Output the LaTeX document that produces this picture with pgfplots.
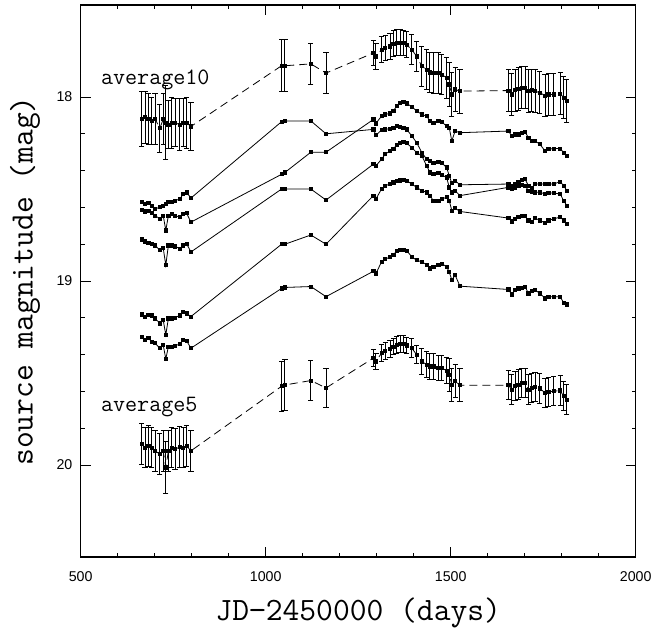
\documentclass[border=0pt]{standalone}
\usepackage{fontspec}
\setsansfont{Liberation Sans}
\usepackage{pgfplots}
\pgfplotsset{compat=1.18}
\usepackage{pgfplotstable}

\pgfplotstableread{
x y
665 18.568
674 18.581
683 18.576
692 18.590
701 18.608
714 18.599
723 18.590
730 18.581
737 18.572
746 18.568
755 18.563
768 18.554
777 18.527
786 18.518
798 18.549
1043 18.134
1052 18.130
1122 18.130
1163 18.200
1291 18.176
1298 18.208
1313 18.179
1323 18.176
1336 18.172
1345 18.167
1354 18.158
1363 18.161
1372 18.167
1381 18.176
1395 18.212
1408 18.248
1422 18.302
1435 18.338
1444 18.347
1453 18.356
1467 18.352
1476 18.359
1489 18.383
1496 18.428
1503 18.468
1512 18.455
1525 18.477
1656 18.473
1665 18.482
1674 18.473
1683 18.460
1692 18.449
1701 18.446
1710 18.482
1719 18.496
1728 18.473
1741 18.473
1755 18.473
1764 18.473
1778 18.473
1796 18.460
1805 18.482
1814 18.509
}\curveA

\pgfplotstableread{
x y
665 18.612
674 18.622
683 18.617
692 18.630
701 18.644
714 18.662
723 18.644
730 18.725
737 18.644
746 18.635
755 18.644
768 18.653
777 18.635
786 18.631
798 18.680
1043 18.420
1052 18.410
1122 18.300
1163 18.300
1291 18.122
1298 18.143
1313 18.104
1323 18.095
1336 18.089
1345 18.076
1354 18.049
1363 18.031
1372 18.028
1381 18.035
1395 18.053
1408 18.076
1422 18.095
1435 18.104
1444 18.131
1453 18.140
1467 18.131
1476 18.136
1489 18.158
1496 18.167
1503 18.239
1512 18.185
1525 18.194
1656 18.185
1665 18.212
1674 18.203
1683 18.203
1692 18.194
1701 18.190
1710 18.221
1719 18.239
1728 18.239
1741 18.257
1755 18.293
1764 18.284
1778 18.280
1796 18.280
1805 18.302
1814 18.320
}\curveB

\pgfplotstableread{
x y
665 18.774
674 18.785
683 18.792
692 18.797
701 18.806
714 18.833
723 18.821
730 18.914
737 18.806
746 18.806
755 18.812
768 18.824
777 18.806
786 18.797
798 18.842
1043 18.500
1052 18.500
1122 18.500
1163 18.560
1291 18.365
1298 18.374
1313 18.338
1323 18.311
1336 18.293
1345 18.280
1354 18.262
1363 18.248
1372 18.244
1381 18.251
1395 18.275
1408 18.302
1422 18.320
1435 18.374
1444 18.410
1453 18.419
1467 18.413
1476 18.424
1489 18.437
1496 18.491
1503 18.518
1512 18.509
1525 18.536
1656 18.491
1665 18.500
1674 18.491
1683 18.482
1692 18.478
1701 18.482
1710 18.509
1719 18.514
1728 18.518
1741 18.518
1755 18.527
1764 18.522
1778 18.522
1796 18.527
1805 18.563
1814 18.590
}\curveC

\pgfplotstableread{
x y
665 19.181
674 19.193
683 19.184
692 19.187
701 19.203
714 19.230
723 19.212
730 19.293
737 19.203
746 19.203
755 19.199
768 19.187
777 19.170
786 19.176
798 19.193
1043 18.800
1052 18.800
1122 18.750
1163 18.800
1291 18.536
1298 18.554
1313 18.500
1323 18.482
1336 18.473
1345 18.464
1354 18.458
1363 18.453
1372 18.449
1381 18.455
1395 18.473
1408 18.491
1422 18.509
1435 18.518
1444 18.536
1453 18.563
1467 18.563
1476 18.554
1489 18.545
1496 18.563
1503 18.617
1512 18.604
1525 18.622
1656 18.658
1665 18.676
1674 18.662
1683 18.653
1692 18.644
1701 18.648
1710 18.671
1719 18.680
1728 18.658
1741 18.671
1755 18.684
1764 18.671
1778 18.662
1796 18.653
1805 18.671
1814 18.689
}\curveD

\pgfplotstableread{
x y
665 19.302
674 19.320
683 19.311
692 19.329
701 19.338
714 19.365
723 19.347
730 19.424
737 19.356
746 19.356
755 19.351
768 19.343
777 19.320
786 19.325
798 19.365
1043 19.040
1052 19.035
1122 19.030
1163 19.085
1291 18.947
1298 18.959
1313 18.896
1323 18.882
1336 18.869
1345 18.856
1354 18.838
1363 18.829
1372 18.829
1381 18.835
1395 18.869
1408 18.887
1422 18.896
1435 18.911
1444 18.932
1453 18.923
1467 18.914
1476 18.905
1489 18.923
1496 18.950
1503 18.995
1512 18.968
1525 19.028
1656 19.046
1665 19.073
1674 19.049
1683 19.040
1692 19.037
1701 19.031
1710 19.067
1719 19.055
1728 19.049
1741 19.067
1755 19.094
1764 19.085
1778 19.085
1796 19.085
1805 19.118
1814 19.127
}\curveE

\pgfplotstableread{
x y e
665 18.12 0.15
674 18.11 0.14
683 18.12 0.14
692 18.13 0.13
701 18.12 0.14
714 18.17 0.13
723 18.12 0.14
730 18.14 0.20
737 18.15 0.13
746 18.14 0.14
755 18.14 0.13
768 18.15 0.14
777 18.14 0.13
786 18.14 0.14
798 18.16 0.13
1043 17.83 0.14
1052 17.83 0.14
1122 17.82 0.11
1163 17.87 0.11
1291 17.761 0.07
1298 17.779 0.07
1313 17.743 0.07
1323 17.734 0.07
1336 17.725 0.07
1345 17.711 0.07
1354 17.704 0.07
1363 17.704 0.07
1372 17.707 0.07
1381 17.716 0.07
1395 17.743 0.08
1408 17.779 0.08
1422 17.833 0.11
1435 17.851 0.11
1444 17.866 0.11
1453 17.869 0.11
1467 17.869 0.11
1476 17.878 0.11
1489 17.896 0.11
1496 17.932 0.12
1503 17.986 0.12
1512 17.959 0.12
1525 17.968 0.12
1656 17.965 0.115
1665 17.986 0.115
1674 17.963 0.115
1683 17.956 0.115
1692 17.950 0.115
1701 17.950 0.115
1710 17.968 0.115
1719 17.963 0.115
1728 17.968 0.115
1741 17.977 0.115
1755 17.992 0.115
1764 17.986 0.115
1778 17.986 0.115
1796 17.981 0.115
1805 18.004 0.115
1814 18.022 0.115
}\avgten

\pgfplotstableread{
x y e
665 19.887 0.11
674 19.905 0.11
683 19.896 0.11
692 19.905 0.11
701 19.923 0.11
714 19.941 0.11
723 19.923 0.11
730 20.013 0.14
737 19.923 0.11
746 19.905 0.11
755 19.914 0.11
768 19.902 0.11
777 19.905 0.11
786 19.896 0.11
798 19.923 0.11
1043 19.572 0.137
1052 19.565 0.137
1122 19.541 0.107
1163 19.581 0.108
1291 19.419 0.045
1298 19.437 0.045
1313 19.392 0.045
1323 19.379 0.045
1336 19.368 0.045
1345 19.356 0.045
1354 19.347 0.045
1363 19.343 0.045
1372 19.343 0.045
1381 19.350 0.045
1395 19.365 0.05
1408 19.401 0.05
1422 19.437 0.07
1435 19.455 0.07
1444 19.464 0.07
1453 19.464 0.07
1467 19.473 0.07
1476 19.473 0.07
1489 19.487 0.07
1496 19.509 0.09
1503 19.563 0.09
1512 19.545 0.09
1525 19.566 0.09
1656 19.566 0.08
1665 19.590 0.08
1674 19.572 0.08
1683 19.563 0.08
1692 19.554 0.08
1701 19.554 0.08
1710 19.590 0.08
1719 19.581 0.08
1728 19.577 0.08
1741 19.584 0.08
1755 19.608 0.08
1764 19.602 0.08
1778 19.599 0.08
1796 19.595 0.08
1805 19.626 0.08
1814 19.644 0.08
}\avgfive

\begin{document}
\begin{tikzpicture}
\begin{axis}[
  scale only axis, width=277.5pt, height=276pt,
  xmin=500, xmax=2000, ymin=17.5, ymax=20.5, y dir=reverse,
  xtick={500,1000,1500,2000}, ytick={18,19,20},
  minor x tick num=4, minor y tick num=4,
  tick align=inside,
  major tick length=5pt, minor tick length=2pt,
  every tick/.style={black, line width=0.5pt},
  axis line style={line width=0.6pt},
  scaled ticks=false,
  /pgf/number format/1000 sep={},
  /pgf/number format/assume math mode=true,
  ticklabel style={font=\fontsize{7.1}{8}\selectfont\sffamily},
  xticklabel style={anchor=base, inner sep=0pt, yshift=-12pt},
  yticklabel style={anchor=east, inner sep=0pt, xshift=-4pt},
  every axis x label/.style={at={(axis description cs:0.5,0)}, anchor=base, yshift=-31.5pt},
  every axis y label/.style={at={(axis description cs:0,0.5)}, xshift=-27.85pt, rotate=90, anchor=center},
  label style={font=\fontsize{16.3}{19}\selectfont\ttfamily},
  xlabel={JD−2450000 (days)},
  ylabel={source magnitude (mag)},
  line width=0.4pt,
]
\pgfplotsset{
  cv/.style={black, line width=0.4pt, mark=square*, mark size=0.8pt, mark options={solid, fill=black}},
  av/.style={black, line width=0.4pt, dash pattern=on 4pt off 2.5pt, mark=square*, mark size=0.8pt, mark options={solid, fill=black},
    error bars/.cd, y dir=both, y explicit,
    error bar style={line width=0.5pt, black, solid},
    error mark options={rotate=90, mark size=1.3pt, line width=0.5pt, black, solid}},
}
\addplot[cv] table[x=x,y=y] {\curveA};
\addplot[cv] table[x=x,y=y] {\curveB};
\addplot[cv] table[x=x,y=y] {\curveC};
\addplot[cv] table[x=x,y=y] {\curveD};
\addplot[cv] table[x=x,y=y] {\curveE};
\addplot[av] table[x=x,y=y,y error=e] {\avgten};
\addplot[av] table[x=x,y=y,y error=e] {\avgfive};
\node[anchor=base west, inner sep=0pt, font=\fontsize{11.7}{14}\selectfont\ttfamily] at (axis cs:554,17.932) {average10};
\node[anchor=base west, inner sep=0pt, font=\fontsize{11.7}{14}\selectfont\ttfamily] at (axis cs:554,19.711) {average5};
\end{axis}
\pgfresetboundingbox
\path ([xshift=-40.35pt,yshift=-35pt]current axis.south west) rectangle ([xshift=12.65pt,yshift=2.5pt]current axis.north east);
\end{tikzpicture}
\end{document}
